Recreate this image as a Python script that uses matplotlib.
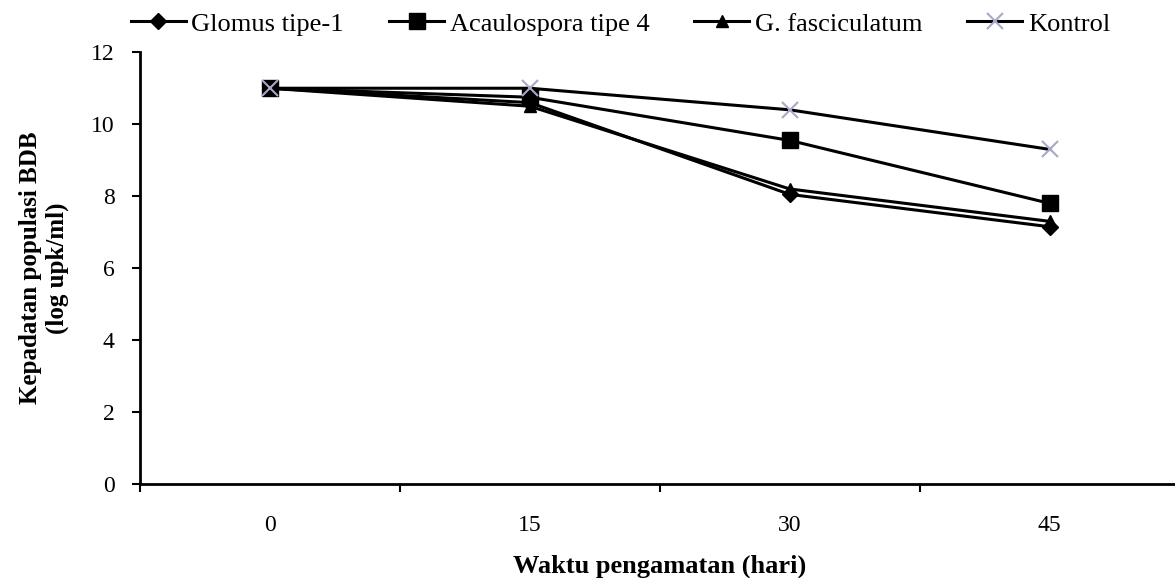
import matplotlib
matplotlib.use("Agg")
import matplotlib.pyplot as plt

plt.rcParams['font.family'] = ['Liberation Serif', 'DejaVu Serif']

days = ["0", "15", "30", "45"]
glomus = [11.0, 10.6, 8.05, 7.15]
acaulospora = [11.0, 10.75, 9.55, 7.8]
fasciculatum = [11.0, 10.5, 8.2, 7.3]
kontrol = [11.0, 11.0, 10.4, 9.3]

fig = plt.figure(figsize=(11.75, 5.78), dpi=100)
ax = fig.add_axes([0.119, 0.1626, 0.885, 0.747])

x = range(len(days))
ax.plot(x, glomus, color='black', lw=2.2, marker='D', ms=8, label='Glomus tipe-1')
ax.plot(x, acaulospora, color='black', lw=2.2, marker='s', ms=12, label='Acaulospora tipe 4')
ax.plot(x, fasciculatum, color='black', lw=2.2, marker='^', ms=9, label='G. fasciculatum')
ax.plot(x, kontrol, color='black', lw=2.2, marker='x', ms=12, mec='#a8a8c8', mew=1.5, label='Kontrol')

ax.set_xlim(-0.5, 3.5)
ax.set_ylim(0, 12)
ax.set_yticks(range(0, 13, 2))
ax.set_xticks([i - 0.5 for i in range(5)])
ax.set_xticklabels([])
ax.set_xticks(list(x), minor=True)
ax.set_xticklabels(days, minor=True, fontsize=17)
ax.tick_params(axis='x', which='minor', length=0, pad=22)
ax.tick_params(axis='x', which='major', direction='out', length=6, width=1.5)
ax.tick_params(axis='y', direction='out', length=6, width=1.5, labelsize=17, pad=12)
for s in ['top', 'right']:
    ax.spines[s].set_visible(False)
for s in ['left', 'bottom']:
    ax.spines[s].set_linewidth(2)

ax.set_xlabel('Waktu pengamatan (hari)', fontsize=19, fontweight='bold', labelpad=14)
ax.set_ylabel('Kepadatan populasi BDB\n(log upk/ml)', fontsize=18, fontweight='bold', labelpad=16)

fig.legend(loc='upper center', bbox_to_anchor=(0.528, 1.02), ncol=4, frameon=False,
           fontsize=19, handlelength=2.1, handletextpad=0.2, columnspacing=1.7)

fig.savefig('out.png', dpi=100)
